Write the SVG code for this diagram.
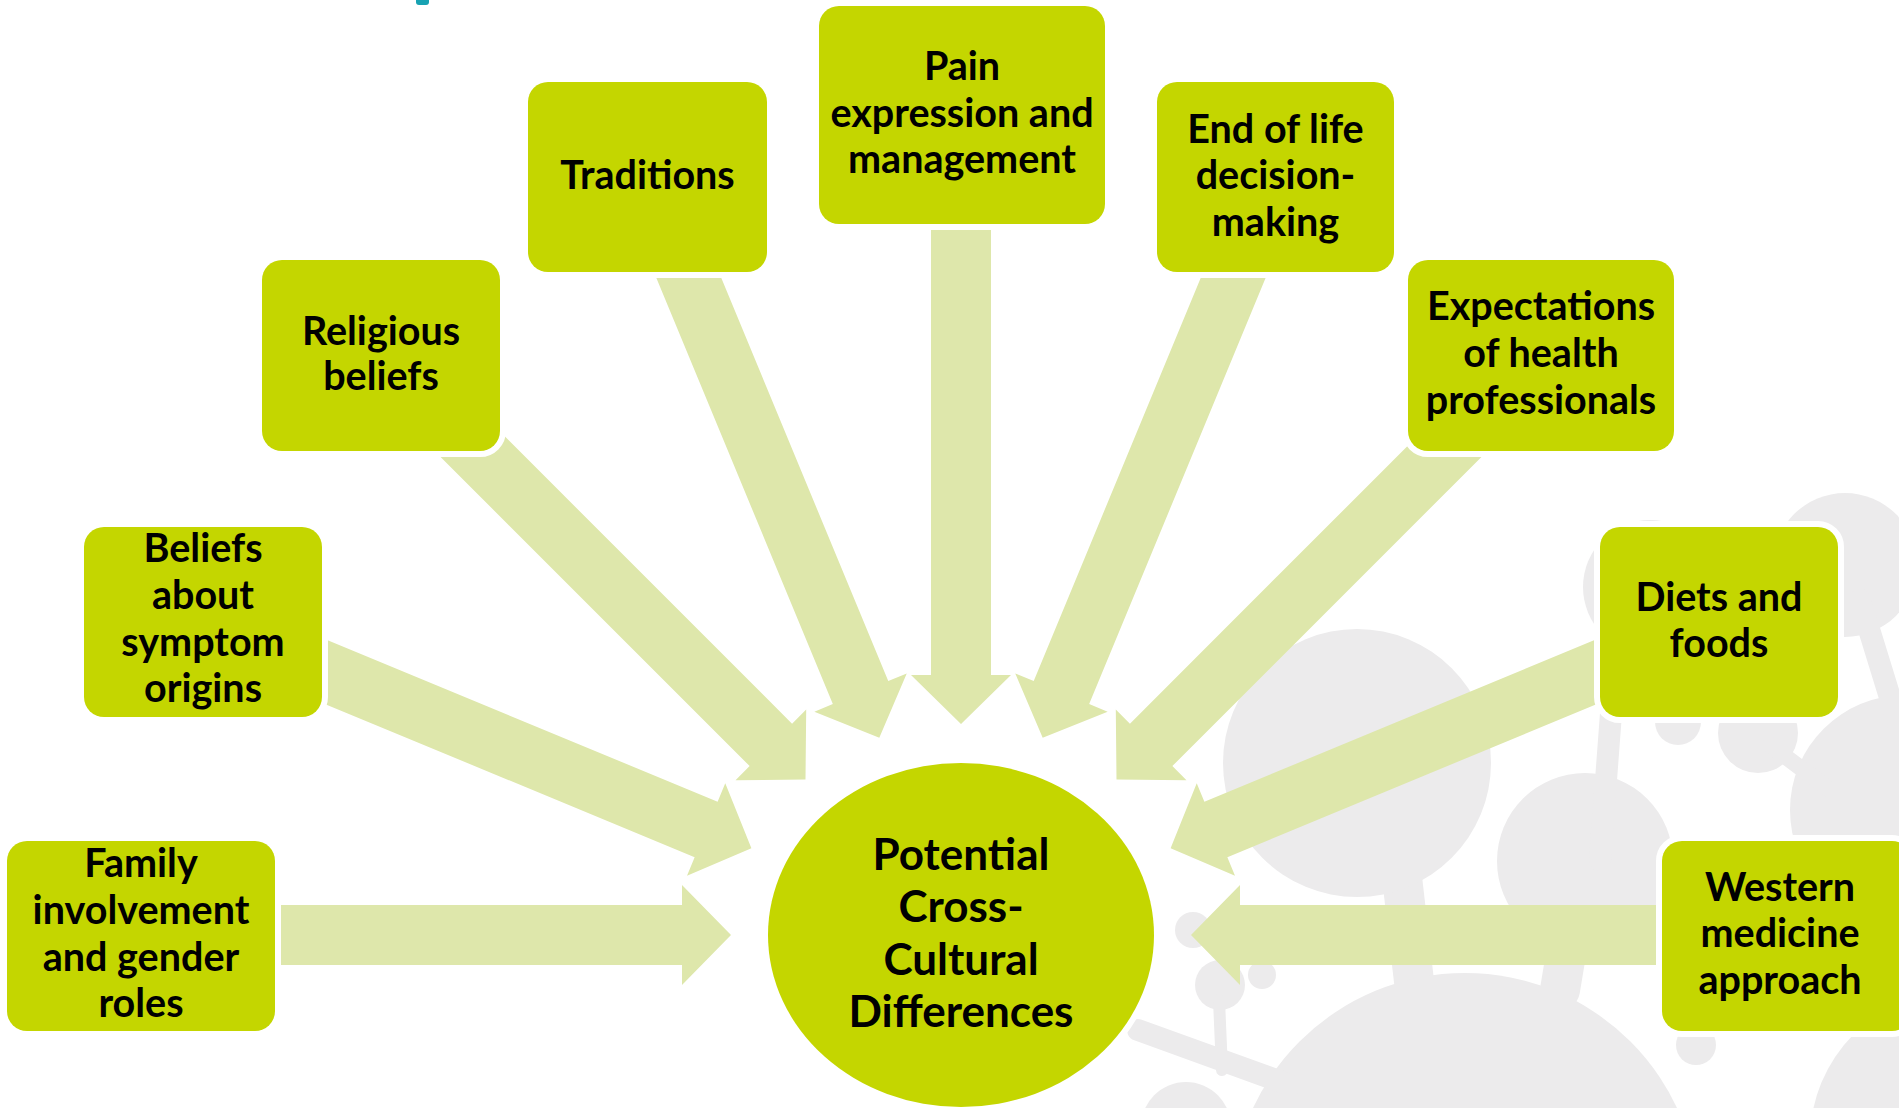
<svg xmlns="http://www.w3.org/2000/svg" xmlns:xlink="http://www.w3.org/1999/xlink" width="1899" height="1108" viewBox="0 0 1899 1108">
<style>
.bg{fill:#ecebec}
.bgl{stroke:#ecebec;fill:none;stroke-linecap:round}
.box{fill:#c4d600;stroke:#ffffff;stroke-width:12;paint-order:stroke}
.arw{fill:#dee7ab}
.t{font-family:Lato,"Liberation Sans",sans-serif;font-weight:700;font-size:39.5px;fill:#000;text-anchor:middle}
.tc{font-size:44px}
</style>
<defs>
<polygon id="arrow" points="0,0 -49,-50 -49,-30 -600,-30 -600,30 -49,30 -49,50"/>
</defs>
<rect width="1899" height="1108" fill="#ffffff"/>
<g id="background">
<line class="bgl" x1="1400" y1="860" x2="1415" y2="990" stroke-width="40"/>
<line class="bgl" x1="1570" y1="930" x2="1560" y2="990" stroke-width="40"/>
<circle class="bg" cx="1357" cy="763" r="134"/>
<circle class="bg" cx="1585" cy="861" r="88"/>
<circle class="bg" cx="1465" cy="1207" r="234"/>
<circle class="bg" cx="1845" cy="565" r="72"/>
<circle class="bg" cx="1905" cy="810" r="115"/>
<circle class="bg" cx="1650" cy="587" r="67"/>
<circle class="bg" cx="1678" cy="722" r="23"/>
<circle class="bg" cx="1758" cy="733" r="40"/>
<circle class="bg" cx="1696" cy="1045" r="20"/>
<circle class="bg" cx="1960" cy="1140" r="150"/>
<circle class="bg" cx="1193" cy="930" r="18"/>
<circle class="bg" cx="1220" cy="985" r="25"/>
<circle class="bg" cx="1262" cy="975" r="14"/>
<circle class="bg" cx="1186" cy="1127" r="45"/>
<line class="bgl" x1="1600" y1="860" x2="1612" y2="700" stroke-width="22"/>
<line class="bgl" x1="1860" y1="600" x2="1900" y2="730" stroke-width="22"/>
<line class="bgl" x1="1770" y1="745" x2="1830" y2="790" stroke-width="16"/>
<line class="bgl" x1="1219" y1="1000" x2="1222" y2="1070" stroke-width="12"/>
<line class="bgl" x1="1138" y1="1030" x2="1290" y2="1085" stroke-width="22"/>
</g>
<rect x="416" y="-5" width="13" height="10" rx="3" fill="#17a2b2"/>
<g id="connectors">
<use xlink:href="#arrow" class="arw" transform="translate(731,935) rotate(0)"/>
<use xlink:href="#arrow" class="arw" transform="translate(751.4,848.2) rotate(22.5)"/>
<use xlink:href="#arrow" class="arw" transform="translate(805.5,779.5) rotate(45)"/>
<use xlink:href="#arrow" class="arw" transform="translate(879.3,737.8) rotate(67.5)"/>
<use xlink:href="#arrow" class="arw" transform="translate(961,724) rotate(90)"/>
<use xlink:href="#arrow" class="arw" transform="translate(1042.7,737.8) rotate(112.5)"/>
<use xlink:href="#arrow" class="arw" transform="translate(1116.5,779.5) rotate(135)"/>
<use xlink:href="#arrow" class="arw" transform="translate(1170.6,848.2) rotate(157.5)"/>
<use xlink:href="#arrow" class="arw" transform="translate(1191,935) rotate(180)"/>
</g>
<g id="center">
<ellipse class="box" cx="961" cy="935" rx="193" ry="172"/>
<text class="t tc"><tspan x="961" y="870">Potential</tspan><tspan x="961" y="922">Cross-</tspan><tspan x="961" y="975">Cultural</tspan><tspan x="961" y="1027">Differences</tspan></text>
</g>
<g id="family">
<rect class="box" x="7" y="841" width="268" height="190" rx="20"/>
<text class="t"><tspan x="141" y="877">Family</tspan><tspan x="141" y="924">involvement</tspan><tspan x="141" y="971">and gender</tspan><tspan x="141" y="1017">roles</tspan></text>
</g>
<g id="symptom">
<rect class="box" x="84" y="527" width="238" height="190" rx="20"/>
<text class="t"><tspan x="203" y="562">Beliefs</tspan><tspan x="203" y="609">about</tspan><tspan x="203" y="656">symptom</tspan><tspan x="203" y="702">origins</tspan></text>
</g>
<g id="religious">
<rect class="box" x="262" y="260" width="238" height="191" rx="20"/>
<text class="t"><tspan x="381" y="345">Religious</tspan><tspan x="381" y="390">beliefs</tspan></text>
</g>
<g id="traditions">
<rect class="box" x="528" y="82" width="239" height="190" rx="20"/>
<text class="t"><tspan x="647.5" y="189">Traditions</tspan></text>
</g>
<g id="pain">
<rect class="box" x="819" y="6" width="286" height="218" rx="20"/>
<text class="t"><tspan x="962" y="80">Pain</tspan><tspan x="962" y="127">expression and</tspan><tspan x="962" y="173">management</tspan></text>
</g>
<g id="endoflife">
<rect class="box" x="1157" y="82" width="237" height="190" rx="20"/>
<text class="t"><tspan x="1275.5" y="143">End of life</tspan><tspan x="1275.5" y="189">decision-</tspan><tspan x="1275.5" y="236">making</tspan></text>
</g>
<g id="expectations">
<rect class="box" x="1408" y="260" width="266" height="191" rx="20"/>
<text class="t"><tspan x="1541" y="320">Expectations</tspan><tspan x="1541" y="367">of health</tspan><tspan x="1541" y="414">professionals</tspan></text>
</g>
<g id="diets">
<rect class="box" x="1600" y="527" width="238" height="190" rx="20"/>
<text class="t"><tspan x="1719" y="611">Diets and</tspan><tspan x="1719" y="657">foods</tspan></text>
</g>
<g id="western">
<rect class="box" x="1662" y="841" width="250" height="190" rx="20"/>
<text class="t"><tspan x="1780" y="901">Western</tspan><tspan x="1780" y="947">medicine</tspan><tspan x="1780" y="994">approach</tspan></text>
</g>
</svg>
